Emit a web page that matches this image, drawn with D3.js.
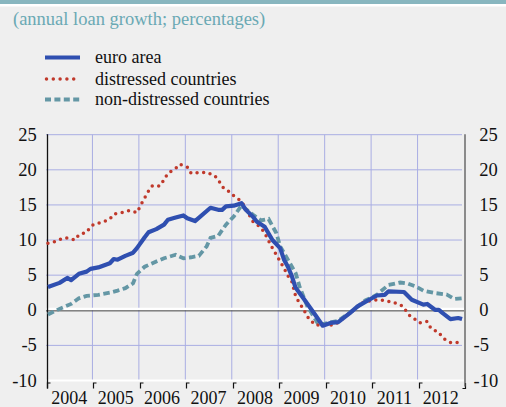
<!DOCTYPE html>
<html><head><meta charset="utf-8">
<script src="https://cdn.jsdelivr.net/npm/d3@7"></script>
<style>
html,body{margin:0;padding:0;background:#efefef;}
svg{display:block;}
</style></head>
<body>
<svg id="chart" width="506" height="407"></svg>
<script>
// ---- data ----
const title = "(annual loan growth; percentages)";
const seriesNames = ["euro area", "distressed countries", "non-distressed countries"];
const years = ["2004","2005","2006","2007","2008","2009","2010","2011","2012"];
const yTicks = [25,20,15,10,5,0,-5,-10];

const euroDates = ["2004-01","2004-04","2004-06","2004-07","2004-09","2004-11","2004-12","2005-02","2005-05","2005-06","2005-07","2005-09","2005-11","2005-12","2006-02","2006-03","2006-05","2006-07","2006-08","2006-10","2006-11","2006-12","2007-01","2007-03","2007-07","2007-09","2007-10","2007-11","2008-01","2008-03","2008-04","2008-06","2008-07","2008-09","2008-11","2009-01","2009-02","2009-03","2009-04","2009-05","2009-07","2009-10","2009-12","2010-02","2010-04","2010-07","2010-09","2010-12","2011-02","2011-04","2011-05","2011-09","2011-11","2012-02","2012-03","2012-05","2012-06","2012-07","2012-09","2012-11","2012-12"];
const euroValues = [3.3,3.9,4.6,4.3,5.2,5.5,5.9,6.1,6.7,7.3,7.2,7.75,8.2,8.85,10.4,11.1,11.55,12.2,12.9,13.2,13.35,13.5,13.1,12.7,14.6,14.3,14.3,14.8,14.9,15.25,14.4,13.3,12.6,11.9,10.0,8.85,7.2,6.2,4.9,3.2,1.7,-0.6,-2.2,-1.8,-1.7,-0.4,0.55,1.5,2.1,2.2,2.7,2.6,1.5,0.8,0.9,0.07,0.07,-0.4,-1.25,-1.1,-1.25];

const distDates = ["2004-01","2004-03","2004-05","2004-06","2004-08","2004-09","2004-11","2004-12","2005-01","2005-03","2005-05","2005-06","2005-08","2005-10","2005-12","2006-01","2006-02","2006-03","2006-04","2006-06","2006-07","2006-08","2006-10","2006-11","2007-01","2007-02","2007-04","2007-06","2007-08","2007-09","2007-10","2007-12","2008-01","2008-03","2008-05","2008-06","2008-08","2008-09","2008-10","2008-11","2008-12","2009-01","2009-02","2009-03","2009-04","2009-05","2009-06","2009-07","2009-08","2009-10","2010-01","2010-03","2010-07","2010-10","2010-11","2011-02","2011-04","2011-06","2011-08","2011-09","2011-10","2011-12","2012-01","2012-03","2012-04","2012-06","2012-07","2012-09","2012-11"];
const distValues = [9.55,9.8,10.3,10.3,10.0,10.75,11.1,11.9,12.3,12.5,13.0,13.7,13.9,14.2,13.9,15.0,16.0,17.0,17.75,17.7,18.6,19.5,20.2,20.8,20.4,19.5,19.6,19.65,19.2,18.6,17.6,16.8,16.3,15.5,13.6,12.6,11.8,11.0,9.9,8.85,7.9,6.95,6.0,4.9,4.1,2.0,1.0,0.2,-0.9,-2.1,-2.1,-2.1,-0.4,1.0,1.25,1.5,1.4,1.15,0.8,0.4,-0.55,-1.35,-1.8,-1.6,-2.6,-3.15,-3.95,-4.6,-4.6];

const nonDates = ["2004-01","2004-04","2004-07","2004-09","2004-11","2005-02","2005-05","2005-07","2005-09","2005-11","2005-12","2006-02","2006-05","2006-07","2006-10","2006-12","2007-02","2007-04","2007-06","2007-07","2007-09","2007-11","2008-01","2008-03","2008-06","2008-08","2008-10","2008-12","2009-01","2009-03","2009-05","2009-06","2009-08","2009-11","2010-04","2010-08","2010-11","2011-02","2011-03","2011-05","2011-08","2011-10","2011-12","2012-02","2012-05","2012-08","2012-10","2012-12"];
const nonValues = [-0.6,0.2,0.9,1.7,2.05,2.2,2.5,2.8,3.15,3.85,5.2,6.2,6.95,7.4,7.9,7.4,7.55,7.75,9.1,10.3,10.6,12.2,13.35,14.9,13.6,12.8,13.0,11.0,9.1,7.2,5.3,3.4,0.6,-2.1,-1.5,0.07,1.4,2.2,2.7,3.6,3.95,3.8,3.4,2.8,2.45,2.25,1.6,1.7];

const colors = {euro:"#2f4fb0", dist:"#c0392b", non:"#6497a5"};
const FONT = "'Liberation Serif', 'Times New Roman', Times, serif";

// ---- layout ----
const svg = d3.select("#chart").attr("font-family", FONT);
const pLeft = 46, pRight = 464, pTop = 134.7, pBottom = 380.5;
const nMonths = years.length * 12;
const x = d3.scaleLinear().domain([0, nMonths]).range([pLeft, pRight]);
const y = d3.scaleLinear().domain([-10, 25]).range([pBottom, pTop]);
const monthIdx = s => { const [yy, mm] = s.split("-").map(Number); return (yy - 2004) * 12 + (mm - 1) + 0.5; };

// background + top bar
svg.append("rect").attr("width",506).attr("height",407).attr("fill","#efefef");
svg.append("rect").attr("x",0).attr("y",0).attr("width",506).attr("height",4).attr("fill","#88b6bf");
svg.append("rect").attr("x",0).attr("y",4).attr("width",506).attr("height",2.5).attr("fill","#ffffff");

// title
svg.append("text").attr("x",13).attr("y",25).attr("font-family",FONT).attr("font-size",18.5).attr("fill","#6aa9b4").text(title);

// legend
const legY = [57.5, 79, 99.5];
const leg = svg.append("g");
leg.append("line").attr("x1",45).attr("x2",80).attr("y1",legY[0]).attr("y2",legY[0])
  .attr("stroke",colors.euro).attr("stroke-width",4.2);
leg.append("line").attr("x1",46.5).attr("x2",80).attr("y1",legY[1]).attr("y2",legY[1])
  .attr("stroke",colors.dist).attr("stroke-width",3.5).attr("stroke-linecap","round").attr("stroke-dasharray","0,6.8");
leg.append("line").attr("x1",45).attr("x2",80).attr("y1",legY[2]).attr("y2",legY[2])
  .attr("stroke",colors.non).attr("stroke-width",3.8).attr("stroke-dasharray","6,3.4");
seriesNames.forEach((n,i)=>{
  leg.append("text").attr("x",95).attr("y",legY[i]+5.8).attr("font-family",FONT).attr("font-size",18).attr("fill","#111").text(n);
});

// grid
const grid = svg.append("g").attr("stroke","#a9aee3").attr("stroke-width",1);
yTicks.filter(v => v !== 0 && v !== -10).forEach(v=>{
  grid.append("line").attr("x1",pLeft).attr("x2",pRight-2).attr("y1",y(v)).attr("y2",y(v));
});
d3.range(1, years.length).forEach(k=>{
  grid.append("line").attr("x1",x(k*12)).attr("x2",x(k*12)).attr("y1",pTop).attr("y2",pBottom);
});

// zero line
svg.append("line").attr("x1",pLeft).attr("x2",pRight).attr("y1",y(0)-1.2).attr("y2",y(0)-1.2)
  .attr("stroke","#ffffff").attr("stroke-width",2.4);
svg.append("line").attr("x1",pLeft).attr("x2",pRight).attr("y1",y(0)+0.6).attr("y2",y(0)+0.6)
  .attr("stroke","#444").attr("stroke-width",1);

// bottom axis line + ticks
svg.append("line").attr("x1",pLeft).attr("x2",pRight).attr("y1",pBottom).attr("y2",pBottom)
  .attr("stroke","#ffffff").attr("stroke-width",2);
d3.range(0, years.length + 1).forEach(k=>{
  const tx = Math.round(x(k*12)) + 1.5;
  svg.append("path").attr("d", k < years.length ? `M${tx+3},${pBottom+2.5}H${tx}V${pBottom+8}` : `M${tx-3},${pBottom+8}H${tx}V${pBottom+2.5}`)
    .attr("fill","none").attr("stroke","#111").attr("stroke-width",1.2);
});

// vertical axes
svg.append("line").attr("x1",pLeft+1.5).attr("x2",pLeft+1.5).attr("y1",pTop-0.5).attr("y2",pBottom+8)
  .attr("stroke","#111").attr("stroke-width",1.3);
svg.append("line").attr("x1",pRight+1).attr("x2",pRight+1).attr("y1",pTop-0.5).attr("y2",pBottom+6)
  .attr("stroke","#555").attr("stroke-width",1.3);

// y labels
yTicks.forEach(v=>{
  svg.append("text").attr("x",36.8).attr("y",y(v)+6).attr("text-anchor","end")
    .attr("font-family",FONT).attr("font-size",18.5).attr("fill","#111").text(v);
  svg.append("text").attr("x", v < 0 ? 473.5 : 479.3).attr("y",y(v)+6)
    .attr("font-family",FONT).attr("font-size",18.5).attr("fill","#111").text(v);
});

// x labels
years.forEach((yr,k)=>{
  svg.append("text").attr("x",x(k*12+6)).attr("y",404).attr("text-anchor","middle")
    .attr("font-family",FONT).attr("font-size",18).attr("fill","#111").text(yr);
});

// series
const line = d3.line().x(d=>x(monthIdx(d[0]))).y(d=>y(d[1]));
const zip = (a,b) => a.map((d,i)=>[d,b[i]]);
svg.append("path").datum(zip(nonDates,nonValues)).attr("d",line).attr("fill","none")
  .attr("stroke",colors.non).attr("stroke-width",3.8).attr("stroke-dasharray","6.5,3.5");
svg.append("path").datum(zip(distDates,distValues)).attr("d",line).attr("fill","none")
  .attr("stroke",colors.dist).attr("stroke-width",3.5).attr("stroke-linecap","round").attr("stroke-dasharray","0,6.6");
svg.append("path").datum(zip(euroDates,euroValues)).attr("d",line).attr("fill","none")
  .attr("stroke",colors.euro).attr("stroke-width",4.2).attr("stroke-linejoin","round");
</script>
</body></html>
